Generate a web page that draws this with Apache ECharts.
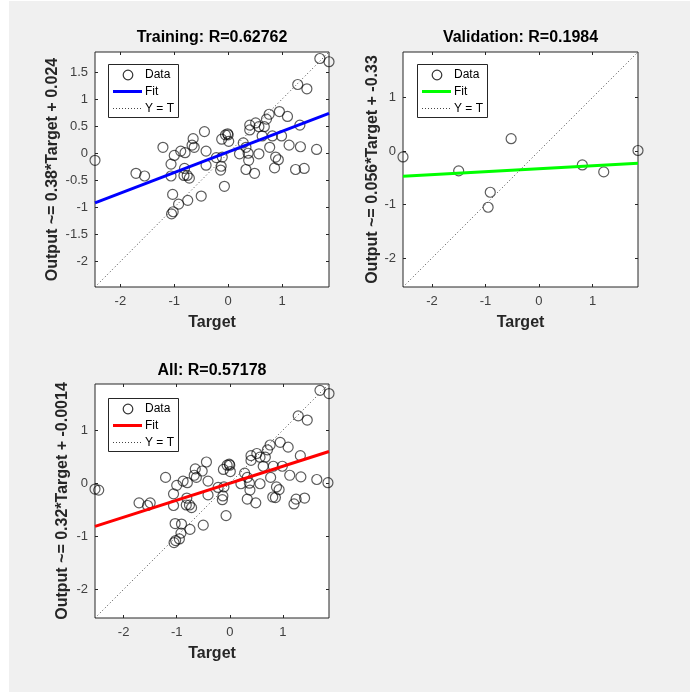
<!DOCTYPE html>
<html><head><meta charset="utf-8">
<script src="https://cdn.jsdelivr.net/npm/echarts@6/dist/echarts.min.js"></script>
<style>
html,body{margin:0;padding:0;background:#fff;}
#bg{position:absolute;left:9px;top:1px;width:681px;height:691px;background:#f0f0f0;}
#c{position:absolute;left:0;top:0;width:690px;height:694px;}
</style>
</head><body><div id="bg"></div><div id="c"></div>
<script>
// ---------- data ----------
const trainTarget = [1.70, 1.87, 1.29, 1.46, 0.95, 1.10, 0.76, 0.71, 1.33, 0.40, 0.51, 0.57, 0.67, 0.40, 0.63, 0.82, 0.99, -0.05, -0.01, 0.00, -0.12, 0.01, -0.44, -0.65, -0.67, -0.63, -0.41, -0.88, -0.80, -1.00, -1.21, 0.28, 0.21, 0.33, 0.37, 0.57, 0.77, 1.13, 1.34, 1.64, 0.88, 0.93, 0.86, 1.25, 1.41, 0.38, 0.33, 0.49, -0.22, -0.11, -0.13, -0.14, -0.07, -0.41, -1.06, -1.06, -0.81, -0.82, -0.76, -0.72, -1.71, -1.55, -2.47, -1.03, -0.50, -0.75, -0.92, -1.02, -1.05];
const trainOutput = [1.75, 1.69, 1.27, 1.19, 0.77, 0.68, 0.72, 0.63, 0.52, 0.52, 0.56, 0.49, 0.49, 0.43, 0.32, 0.32, 0.32, 0.34, 0.36, 0.34, 0.26, 0.22, 0.40, 0.27, 0.15, 0.11, 0.04, 0.04, 0.01, -0.04, 0.11, 0.19, -0.01, 0.11, 0.00, -0.01, 0.11, 0.15, 0.12, 0.07, -0.07, -0.12, -0.27, -0.30, -0.28, -0.13, -0.30, -0.37, -0.08, -0.07, -0.24, -0.31, -0.61, -0.22, -0.20, -0.42, -0.28, -0.41, -0.41, -0.46, -0.37, -0.42, -0.13, -0.76, -0.79, -0.87, -0.94, -1.08, -1.12];

const valTarget = [-2.54, -1.50, -0.52, -0.91, -0.95, 0.81, 1.21, 1.85];
const valOutput = [-0.11, -0.37, 0.23, -0.77, -1.05, -0.26, -0.39, 0.01];

// axis limits (same for Target and Output in each panel)
const trainLim = [-2.47, 1.87];
const valLim = [-2.54, 1.85];
const allLim = [-2.54, 1.87];

// fit line end values (Output at the two limits)
const trainFitY = [-0.915, 0.735];
const valFitY = [-0.472, -0.226];
const allFitY = [-0.814, 0.597];

// tick labels
const trainXTicks = [-2, -1, 0, 1];
const trainYTicks = [-2, -1.5, -1, -0.5, 0, 0.5, 1, 1.5];
const valXTicks = [-2, -1, 0, 1];
const valYTicks = [-2, -1, 0, 1];
const allXTicks = [-2, -1, 0, 1];
const allYTicks = [-2, -1, 0, 1];

const titles = ['Training: R=0.62762', 'Validation: R=0.1984', 'All: R=0.57178'];
const yNames = ['Output ~= 0.38*Target + 0.024', 'Output ~= 0.056*Target + -0.33', 'Output ~= 0.32*Target + -0.0014'];
const fitColors = ['#0000ff', '#00ff00', '#ff0000'];
const legendLabels = ['Data', 'Fit', 'Y = T'];

// ---------- layout ----------
const FONT = "'Liberation Sans', Arial, Helvetica, sans-serif";
const AX = '#262626';
const MK = 'rgba(0,0,0,0.8)';
const panels = [
  {grid: {left: 95, top: 52, width: 234, height: 235}, lim: trainLim, xt: trainXTicks, yt: trainYTicks,
   tx: trainTarget, ty: trainOutput, fit: trainFitY, yGap: 34, legend: [108, 64], titleY: 38},
  {grid: {left: 403, top: 52, width: 235, height: 235}, lim: valLim, xt: valXTicks, yt: valYTicks,
   tx: valTarget, ty: valOutput, fit: valFitY, yGap: 22, legend: [417, 64], titleY: 38},
  {grid: {left: 95, top: 384, width: 234, height: 234}, lim: allLim, xt: allXTicks, yt: allYTicks,
   tx: trainTarget.concat(valTarget), ty: trainOutput.concat(valOutput), fit: allFitY, yGap: 24, legend: [108, 398], titleY: 371}
];

const grids = [], xAxes = [], yAxes = [], series = [], graphics = [];
panels.forEach((p, i) => {
  grids.push(Object.assign({show: true, backgroundColor: '#fff', borderColor: AX, borderWidth: 1}, p.grid));
  const tick = (vals) => ({show: true, inside: true, length: 3, customValues: vals, lineStyle: {color: AX, width: 1}});
  const noLine = {show: false, onZero: false};
  xAxes.push({gridIndex: i, type: 'value', position: 'bottom', min: p.lim[0], max: p.lim[1],
    axisLine: noLine, axisTick: tick(p.xt), splitLine: {show: false},
    axisLabel: {customValues: p.xt, color: '#404040', fontSize: 13, fontFamily: FONT, margin: 8},
    name: 'Target', nameLocation: 'middle', nameGap: 28,
    nameTextStyle: {fontWeight: 'bold', fontSize: 16, color: AX, fontFamily: FONT}});
  xAxes.push({gridIndex: i, type: 'value', position: 'top', min: p.lim[0], max: p.lim[1],
    axisLine: noLine, axisTick: tick(p.xt), axisLabel: {show: false}, splitLine: {show: false}});
  yAxes.push({gridIndex: i, type: 'value', position: 'left', min: p.lim[0], max: p.lim[1],
    axisLine: noLine, axisTick: tick(p.yt), splitLine: {show: false},
    axisLabel: {customValues: p.yt, color: '#404040', fontSize: 13, fontFamily: FONT, margin: 7},
    name: yNames[i], nameLocation: 'middle', nameRotate: 90, nameGap: p.yGap,
    nameTextStyle: {fontWeight: 'bold', fontSize: 16, color: AX, fontFamily: FONT}});
  yAxes.push({gridIndex: i, type: 'value', position: 'right', min: p.lim[0], max: p.lim[1],
    axisLine: noLine, axisTick: tick(p.yt), axisLabel: {show: false}, splitLine: {show: false}});

  series.push({type: 'scatter', xAxisIndex: 2 * i, yAxisIndex: 2 * i, clip: false, silent: true,
    symbol: 'circle', symbolSize: 10,
    itemStyle: {color: 'rgba(0,0,0,0)', borderColor: MK, borderWidth: 1.2},
    data: p.tx.map((v, k) => [v, p.ty[k]]), z: 2});
  series.push({type: 'line', xAxisIndex: 2 * i, yAxisIndex: 2 * i, silent: true, symbol: 'none',
    lineStyle: {color: fitColors[i], width: 3}, data: [[p.lim[0], p.fit[0]], [p.lim[1], p.fit[1]]], z: 3});
  series.push({type: 'line', xAxisIndex: 2 * i, yAxisIndex: 2 * i, silent: true, symbol: 'none',
    lineStyle: {color: '#444', width: 1, type: [1, 2.5]}, data: [[p.lim[0], p.lim[0]], [p.lim[1], p.lim[1]]], z: 4});

  // title
  graphics.push({type: 'text', x: p.grid.left + p.grid.width / 2, y: p.titleY, silent: true,
    style: {text: titles[i], align: 'center', verticalAlign: 'middle', fill: '#000',
      font: 'bold 16px ' + FONT}});
  // legend box
  const L = p.legend[0], T = p.legend[1];
  graphics.push({type: 'group', x: L, y: T, z: 100, silent: true, children: [
    {type: 'rect', shape: {x: 0.5, y: 0.5, width: 70, height: 53}, style: {fill: '#fff', stroke: AX, lineWidth: 1}},
    {type: 'circle', shape: {cx: 20, cy: 11, r: 4.8}, style: {fill: 'none', stroke: MK, lineWidth: 1.2}},
    {type: 'text', x: 37, y: 11, style: {text: legendLabels[0], verticalAlign: 'middle', fill: '#000', font: '12px ' + FONT}},
    {type: 'line', shape: {x1: 5, y1: 27.5, x2: 34, y2: 27.5}, style: {stroke: fitColors[i], lineWidth: 3}},
    {type: 'text', x: 37, y: 27.5, style: {text: legendLabels[1], verticalAlign: 'middle', fill: '#000', font: '12px ' + FONT}},
    {type: 'line', shape: {x1: 5, y1: 44.5, x2: 34, y2: 44.5}, style: {stroke: '#444', lineWidth: 1, lineDash: [1, 2]}},
    {type: 'text', x: 37, y: 44.5, style: {text: legendLabels[2], verticalAlign: 'middle', fill: '#000', font: '12px ' + FONT}}
  ]});
});

const chart = echarts.init(document.getElementById('c'), null, {renderer: 'canvas'});
chart.setOption({
  animation: false,
  backgroundColor: 'transparent',
  textStyle: {fontFamily: FONT},
  grid: grids, xAxis: xAxes, yAxis: yAxes, series: series, graphic: graphics
});
</script></body></html>
